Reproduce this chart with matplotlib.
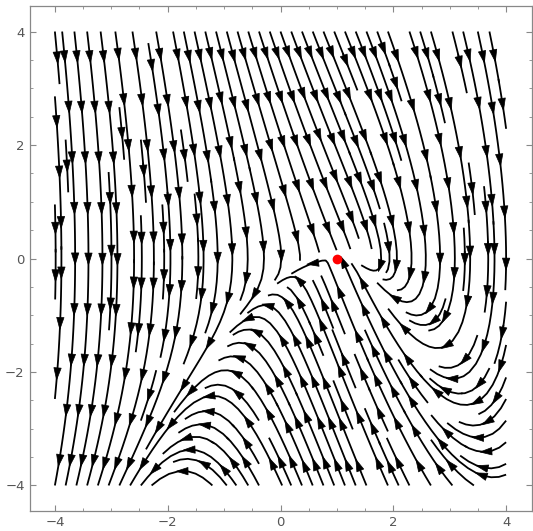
import matplotlib
matplotlib.use("Agg")
import matplotlib.pyplot as plt
from matplotlib.collections import PolyCollection
import numpy as np

# field: x' = A*y, y' = -(B*y + (x - X0)^2)
A = 0.8
B = 2.0
fixed_point = (1.0, 0.0)
major_ticks = [-4, -2, 0, 2, 4]
minor_ticks = np.arange(-4.0, 4.01, 0.5)
field_range = (-4.0, 4.0)
view_range = (-4.45, 4.45)


def velocity(x, y):
    return A * y, -(B * y + (x - fixed_point[0]) ** 2)


def arrow_heads(segs, spacing=0.85, L=0.21, W=0.13):
    tris = []
    for seg in segs:
        seg = np.asarray(seg)
        if len(seg) < 3:
            continue
        d = np.diff(seg, axis=0)
        ds = np.hypot(d[:, 0], d[:, 1])
        s = np.concatenate([[0], np.cumsum(ds)])
        total = s[-1]
        if total < 0.3:
            continue
        n = max(1, int(round(total / spacing)))
        for k in range(n):
            sk = (k + 0.5) * total / n
            px = np.interp(sk, s, seg[:, 0])
            py = np.interp(sk, s, seg[:, 1])
            u, v = velocity(px, py)
            nrm = np.hypot(u, v)
            if nrm == 0:
                continue
            ux, uy = u / nrm, v / nrm
            tip = (px + ux * L / 2, py + uy * L / 2)
            bx, by = px - ux * L / 2, py - uy * L / 2
            tris.append([tip, (bx - uy * W / 2, by + ux * W / 2),
                         (bx + uy * W / 2, by - ux * W / 2)])
    return tris


def main():
    fig = plt.figure(figsize=(5.33, 5.31), dpi=100)
    ax = fig.add_axes([29.5 / 533, 20 / 531, 502 / 533, 505 / 531])

    xs = np.linspace(field_range[0], field_range[1], 200)
    ys = np.linspace(field_range[0], field_range[1], 200)
    X, Y = np.meshgrid(xs, ys)
    U, V = velocity(X, Y)

    sp = ax.streamplot(X, Y, U, V, density=1.45, color="black", linewidth=1.3,
                       arrowstyle="-", arrowsize=0.01)
    tris = arrow_heads(sp.lines.get_segments())
    ax.add_collection(PolyCollection(tris, facecolors="black",
                                     edgecolors="black", linewidths=0.5, zorder=3))

    ax.plot([fixed_point[0]], [fixed_point[1]], "o", color="red", ms=6, zorder=5)

    ax.set_xlim(*view_range)
    ax.set_ylim(*view_range)
    ax.set_xticks(major_ticks)
    ax.set_yticks(major_ticks)
    ax.set_xticks(minor_ticks, minor=True)
    ax.set_yticks(minor_ticks, minor=True)
    ax.tick_params(which="both", direction="in", top=True, right=True,
                   color="#888888", labelcolor="#555555", labelsize=9.5)
    ax.tick_params(which="major", length=4, width=0.8)
    ax.tick_params(which="minor", length=2, width=0.6)
    for s in ax.spines.values():
        s.set_color("#888888")
        s.set_linewidth(0.9)

    fig.savefig("out.png", dpi=100)


if __name__ == "__main__":
    main()
